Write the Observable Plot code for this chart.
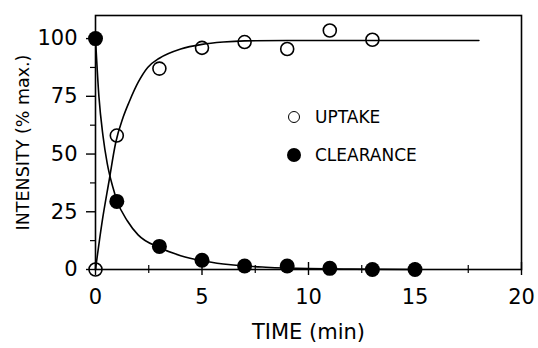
<!DOCTYPE html>
<html>
<head>
<meta charset="utf-8">
<script src="https://cdn.jsdelivr.net/npm/d3@7"></script>
<script src="https://cdn.jsdelivr.net/npm/@observablehq/plot@0.6"></script>
<style>
  html, body { margin: 0; padding: 0; background: #fff; }
  #wrap { position: relative; width: 538px; height: 348px; }
  .leg { position: absolute; font-family: "DejaVu Sans", sans-serif; font-size: 17px; color: #000; display: flex; align-items: center; height: 16px; }
  .sym { border-radius: 50%; box-sizing: border-box; }
</style>
</head>
<body>
<div id="wrap"></div>
<script>
// Measured points
const uptakeTime = [0, 1, 3, 5, 7, 9, 11, 13];
const uptakeValue = [0, 58, 87, 96, 98.5, 95.5, 103.5, 99.5];
const clearanceTime = [0, 1, 3, 5, 7, 9, 11, 13, 15];
const clearanceValue = [100, 29.5, 10, 4, 1.5, 1.5, 0.5, 0, 0];
// Fitted curves
const uptakeFitTime = [0, 0.3, 0.63, 0.95, 1.3, 1.6, 2, 2.45, 3, 4, 5, 6, 7, 9, 12, 18];
const uptakeFitValue = [0, 20, 38, 55, 66, 73, 81, 87.5, 91.5, 95.5, 97.5, 98.5, 99, 99.2, 99.2, 99.2];
const clearanceFitTime = [0, 0.16, 0.35, 0.55, 0.82, 1, 1.5, 2, 3, 4, 5, 6, 7, 8, 10, 12, 15];
const clearanceFitValue = [100, 75, 58, 46, 35.5, 30, 21, 15, 9.5, 6, 3.8, 2.4, 1.5, 1, 0.4, 0.15, 0];
// Axes
const xTicks = [0, 5, 10, 15, 20];
const xMinorTicks = [2.5, 7.5, 12.5, 17.5];
const yTicks = [0, 25, 50, 75, 100];
const yMinorTicks = [12.5, 37.5, 62.5, 87.5];
const xTitle = "TIME (min)";
const yTitle = "INTENSITY (% max.)";
const legendLabels = ["UPTAKE", "CLEARANCE"];

const uptake = uptakeTime.map((t, i) => ({t, v: uptakeValue[i]}));
const clearance = clearanceTime.map((t, i) => ({t, v: clearanceValue[i]}));
const uptakeFit = uptakeFitTime.map((t, i) => ({t, v: uptakeFitValue[i]}));
const clearanceFit = clearanceFitTime.map((t, i) => ({t, v: clearanceFitValue[i]}));

const font = "DejaVu Sans, sans-serif";

const chart = Plot.plot({
  width: 538,
  height: 348,
  marginLeft: 95,
  marginRight: 17,
  marginTop: 15,
  marginBottom: 79,
  style: {fontFamily: font, fontSize: "21px", color: "#000", background: "#fff"},
  x: {domain: [0, 20]},
  y: {domain: [0, 110]},
  marks: [
    Plot.frame({stroke: "#000", strokeWidth: 1.6}),
    Plot.axisX({ticks: xTicks, tickSize: 6, tickPadding: 14, tickFormat: d => String(d), label: null, strokeWidth: 1.4, fontSize: 21}),
    Plot.axisX({ticks: xTicks, tickSize: -7, text: null, label: null, strokeWidth: 1.4}),
    Plot.axisX({ticks: xMinorTicks, tickSize: 4, text: null, label: null, strokeWidth: 1.2}),
    Plot.axisX({ticks: xMinorTicks, tickSize: -4, text: null, label: null, strokeWidth: 1.2}),
    Plot.axisY({ticks: yTicks, tickSize: 9, tickPadding: 9, tickFormat: d => String(d), label: null, strokeWidth: 1.4, fontSize: 21}),
    Plot.axisY({ticks: yMinorTicks, tickSize: 5, text: null, label: null, strokeWidth: 1.2}),
    Plot.line(uptakeFit, {x: "t", y: "v", curve: "monotone-x", stroke: "#000", strokeWidth: 1.6}),
    Plot.line(clearanceFit, {x: "t", y: "v", curve: "monotone-x", stroke: "#000", strokeWidth: 1.6}),
    Plot.dot(uptake, {x: "t", y: "v", r: 6.5, stroke: "#000", strokeWidth: 1.6, fill: "none"}),
    Plot.dot(clearance, {x: "t", y: "v", r: 7.5, fill: "#000", stroke: "none"}),
    Plot.text([xTitle], {text: d => d, frameAnchor: "bottom", dy: 63, lineAnchor: "middle", textAnchor: "middle", fontSize: 21}),
    Plot.text([yTitle], {text: d => d, frameAnchor: "left", dx: -72, rotate: -90, lineAnchor: "middle", textAnchor: "middle", fontSize: 17.5})
  ]
});

const wrap = document.getElementById("wrap");
wrap.appendChild(chart);

// Legend (inside plot area)
const legendItems = [
  {label: legendLabels[0], filled: false, top: 109, size: 12},
  {label: legendLabels[1], filled: true, top: 147, size: 14}
];
for (const it of legendItems) {
  const d = document.createElement("div");
  d.className = "leg";
  d.style.left = (294 - it.size / 2) + "px";
  d.style.top = it.top + "px";
  const s = document.createElement("span");
  s.className = "sym";
  s.style.width = it.size + "px";
  s.style.height = it.size + "px";
  s.style.marginRight = (315 - 294 - it.size / 2) + "px";
  if (it.filled) s.style.background = "#000";
  else s.style.border = "1.6px solid #000";
  d.appendChild(s);
  const t = document.createElement("span");
  t.textContent = it.label;
  d.appendChild(t);
  wrap.appendChild(d);
}
</script>
</body>
</html>
